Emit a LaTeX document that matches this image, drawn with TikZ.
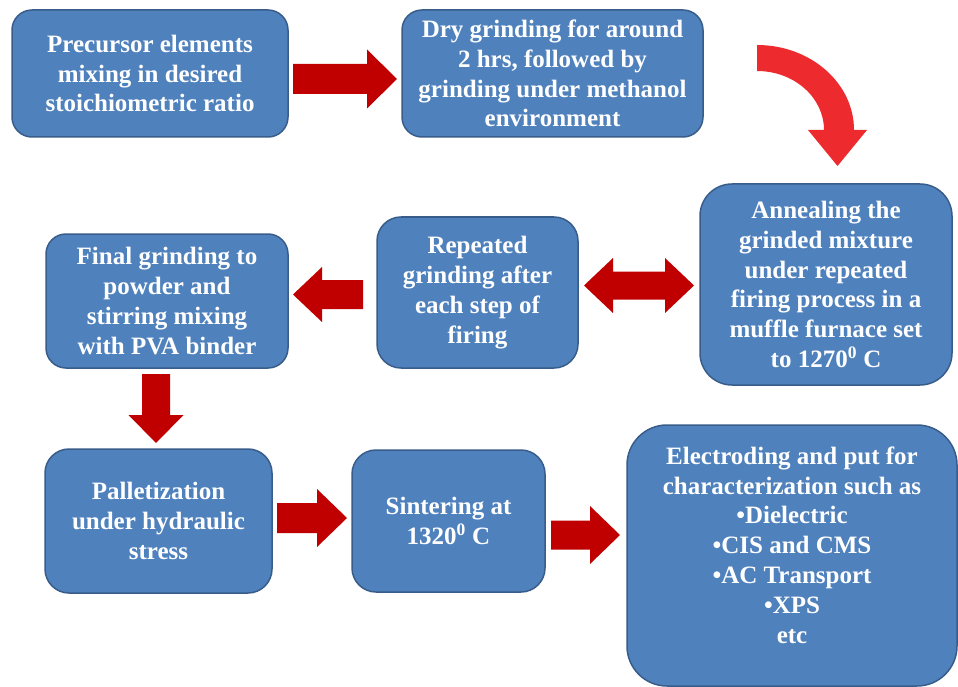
\documentclass[tikz,border=0pt]{standalone}
\usepackage{fontspec}
\setmainfont{Liberation Serif}
\definecolor{boxfill}{HTML}{4F81BD}
\definecolor{boxline}{HTML}{385D8A}
\definecolor{darkred}{HTML}{C00000}
\definecolor{brightred}{HTML}{ED2A2E}
\newcommand\rarr[6]{%
  \fill[darkred] (#1,{#3-#4}) -- ({#2-#6},{#3-#4}) -- ({#2-#6},{#3-#5}) -- (#2,#3)
   -- ({#2-#6},{#3+#5}) -- ({#2-#6},{#3+#4}) -- (#1,{#3+#4}) -- cycle;}
\begin{document}
\begin{tikzpicture}[x=1pt,y=-1pt,
  boxstyle/.style={draw=boxline, line width=1.5pt, fill=boxfill, rounded corners=#1,
     text=white, align=center, inner sep=0pt,
     font=\bfseries\fontsize{25}{29.8}\selectfont},
  boxstyle/.default=20pt,
  txtstyle/.style={text=white, align=center, inner sep=0pt,
     font=\bfseries\fontsize{25}{29.8}\selectfont}]
\useasboundingbox (0,0) rectangle (958,687);
\fill[white] (0,0) rectangle (958,687);

\node[boxstyle, minimum width=276pt, minimum height=127pt] (b1) at (150,73.5)
  {Precursor elements\\mixing in desired\\stoichiometric ratio};
\node[boxstyle, minimum width=301pt, minimum height=127pt] (b2) at (552.5,73.5)
  {Dry grinding for around\\2 hrs, followed by\\grinding under methanol\\environment};
\node[boxstyle=32pt, minimum width=252pt, minimum height=201pt] (b3) at (826,284.5)
  {Annealing the\\grinded mixture\\under repeated\\firing process in a\\muffle furnace set\\to 1270\textsuperscript{0} C};
\node[boxstyle=24pt, minimum width=201pt, minimum height=151pt] (b4) at (477.5,292.5)
  {Repeated\\grinding after\\each step of\\firing};
\node[boxstyle, minimum width=242pt, minimum height=134pt] (b5) at (167,301)
  {Final grinding to\\powder and\\stirring mixing\\with PVA binder};
\node[boxstyle=24pt, minimum width=227pt, minimum height=144pt] (b6) at (158.5,521)
  {Palletization\\under hydraulic\\stress};
\node[boxstyle=24pt, minimum width=193pt, minimum height=142pt] (b7) at (448.5,521)
  {Sintering at\\1320\textsuperscript{0} C};
\node[boxstyle=40pt, minimum width=330pt, minimum height=261pt] (b8) at (792,555.5) {};
\node[txtstyle] (b8t) at (792,545)
  {Electroding and put for\\characterization such as\\•Dielectric\\•CIS and CMS\\•AC Transport\\•XPS\\etc};

% block arrows
\rarr{293}{397}{79}{15}{29.5}{30}
\rarr{363}{293}{294.5}{14.5}{27.5}{-29}
\rarr{277}{347}{518}{15}{29}{30}
\rarr{551}{620}{535}{14.5}{29}{30}
\fill[darkred] (584,285.5) -- (613,258) -- (613,271.5) -- (665,271.5) -- (665,258)
  -- (694,285.5) -- (665,313) -- (665,299.5) -- (613,299.5) -- (613,313) -- cycle;
\fill[darkred] (142,374) -- (170,374) -- (170,415) -- (183.5,415) -- (156,443)
  -- (128.5,415) -- (142,415) -- cycle;
% curved arrow
\fill[brightred] (757,45) arc (270:360:97 and 85) -- (867,130) -- (837.5,166)
  -- (808,130) -- (824,130) arc (0:-90:67 and 59) -- cycle;
\end{tikzpicture}
\end{document}
